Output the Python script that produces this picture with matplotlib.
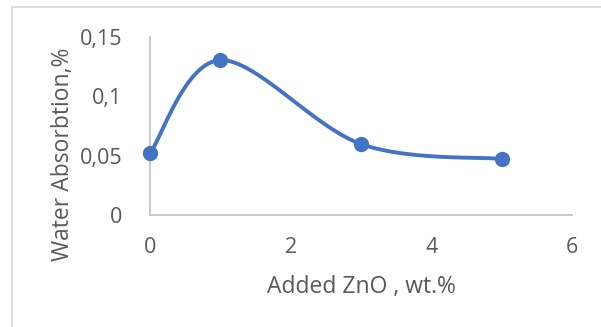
import numpy as np
import matplotlib
matplotlib.use("Agg")
import matplotlib.pyplot as plt
from matplotlib.patches import Rectangle

# data
zno = [0, 1, 3, 5]
absorption = [0.052, 0.1305, 0.0598, 0.0472]
xticks = [0, 2, 4, 6]
xtick_labels = ["0", "2", "4", "6"]
yticks = [0, 0.05, 0.1, 0.15]
ytick_labels = ["0", "0,05", "0,1", "0,15"]
xlabel = "Added ZnO , wt.%"
ylabel = "Water Absorbtion,%"

def excel_smooth(xs, ys, n=40):
    pts = np.column_stack([xs, ys]).astype(float)
    m = len(pts)
    out = []
    for i in range(m - 1):
        p0 = pts[max(i - 1, 0)]
        p1 = pts[i]
        p2 = pts[i + 1]
        p3 = pts[min(i + 2, m - 1)]
        c1 = p1 + (p2 - p0) / 6.0
        c2 = p2 - (p3 - p1) / 6.0
        t = np.linspace(0, 1, n)[:, None]
        seg = ((1 - t) ** 3) * p1 + 3 * ((1 - t) ** 2) * t * c1 + 3 * (1 - t) * t ** 2 * c2 + t ** 3 * p2
        if i > 0:
            seg = seg[1:]
        out.append(seg)
    out = np.vstack(out)
    return out[:, 0], out[:, 1]

plt.rcParams['font.family'] = ['Open Sans', 'DejaVu Sans']
gray = '#595959'
blue = '#4472C4'

W, H = 601, 327
fig = plt.figure(figsize=(W / 100, H / 100), dpi=100)
ax = fig.add_axes([150 / W, 1 - 215 / H, (572 - 150) / W, (215 - 37) / H])

sx, sy = excel_smooth(zno, absorption)
ax.plot(sx, sy, color=blue, lw=2.8, solid_capstyle='round', zorder=3)
ax.plot(zno, absorption, 'o', color=blue, ms=10, zorder=4)

ax.set_xlim(0, 6)
ax.set_ylim(0, 0.15)
ax.set_xticks(xticks)
ax.set_xticklabels(xtick_labels)
ax.set_yticks(yticks)
ax.set_yticklabels(ytick_labels)
ax.tick_params(axis='both', length=0, labelsize=15.5, colors=gray)
ax.tick_params(axis='y', pad=20)
ax.tick_params(axis='x', pad=16)
for s in ['top', 'right']:
    ax.spines[s].set_visible(False)
for s in ['left', 'bottom']:
    ax.spines[s].set_color('#BFBFBF')
    ax.spines[s].set_linewidth(1.2)
for line in ax.lines:
    line.set_clip_on(False)

ax.set_xlabel(xlabel, fontsize=16.5, color=gray, labelpad=12)
fig.text(63 / W, 1 - 154 / H, ylabel, rotation=90, ha='center', va='center',
         fontsize=16.5, color=gray)

fig.patches.append(Rectangle((12 / W, -0.1), 1.2, 1 - 7 / H + 0.1, transform=fig.transFigure,
                             fill=False, edgecolor='#D9D9D9', lw=1.2))

fig.savefig("out.png", dpi=100)
